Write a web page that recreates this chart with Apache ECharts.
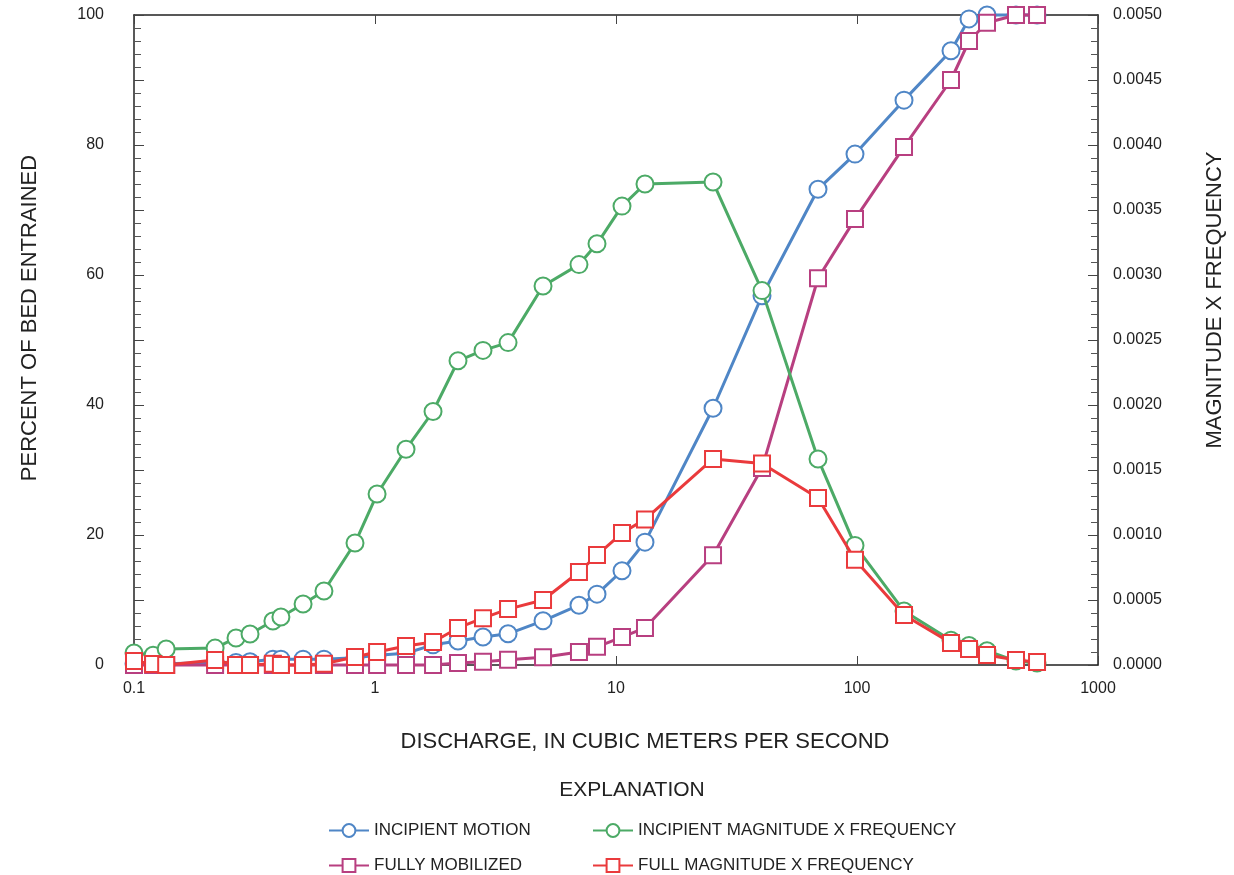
<!DOCTYPE html>
<html>
<head>
<meta charset="utf-8">
<script src="https://cdn.jsdelivr.net/npm/echarts@6/dist/echarts.min.js"></script>
<style>html,body{margin:0;padding:0;background:#fff}#c{width:1234px;height:875px}</style>
</head>
<body>
<div id="c"></div>
<script>
// Discharge, in cubic meters per second
var discharge = [0.1, 0.12, 0.136, 0.217, 0.265, 0.303, 0.377, 0.407, 0.503, 0.614, 0.826, 1.02, 1.345, 1.741, 2.21, 2.806, 3.565, 4.98, 7.02, 8.34, 10.59, 13.19, 25.27, 40.35, 68.9, 98.1, 156.7, 245.5, 291.6, 346.3, 456.8, 558.5];
// Percent of bed entrained (left axis)
var incipientMotion = [0.2, 0.2, 0.2, 0.4, 0.4, 0.5, 0.9, 0.9, 0.9, 0.9, 1.1, 1.5, 1.8, 3.1, 3.7, 4.3, 4.8, 6.8, 9.2, 10.9, 14.5, 18.9, 39.5, 56.8, 73.2, 78.6, 86.9, 94.5, 99.4, 100, 100, 100];
var fullyMobilized = [0, 0, 0, 0, 0, 0, 0, 0, 0, 0, 0, 0, 0, 0, 0.3, 0.5, 0.8, 1.2, 2.0, 2.8, 4.3, 5.7, 16.9, 30.3, 59.5, 68.6, 79.7, 90.0, 96.0, 98.8, 100, 100];
// Magnitude x frequency (right axis)
var incipientMxF = [0.000092, 0.000075, 0.000123, 0.00013, 0.000208, 0.000238, 0.000338, 0.000369, 0.000469, 0.000569, 0.000938, 0.001315, 0.00166, 0.00195, 0.00234, 0.00242, 0.00248, 0.002915, 0.00308, 0.00324, 0.00353, 0.0037, 0.003715, 0.00288, 0.001585, 0.00092, 0.000415, 0.00019, 0.00015, 0.00011, 0.00003, 0.000015];
var fullMxF = [0.000031, 0.000008, 0, 0.000038, 0, 0, 0.00001, 0, 0, 0.00001, 0.000062, 0.0001, 0.000146, 0.000177, 0.000285, 0.00036, 0.00043, 0.0005, 0.000715, 0.000846, 0.001015, 0.00112, 0.001585, 0.00155, 0.001285, 0.00081, 0.000385, 0.00017, 0.000123, 0.000077, 0.000038, 0.000023];
var seriesNames = ['INCIPIENT MOTION', 'INCIPIENT MAGNITUDE X FREQUENCY', 'FULLY MOBILIZED', 'FULL MAGNITUDE X FREQUENCY'];
var xTickLabels = ['0.1', '1', '10', '100', '1000'];

function pairs(ys) { return discharge.map(function (x, i) { return [x, ys[i]]; }); }

var FONT = '"Liberation Sans", Arial, sans-serif';
var TXT = '#222';
var chart = echarts.init(document.getElementById('c'));

function mkSeries(name, data, color, symbol, size, yIdx, z) {
  return {
    name: name, type: 'line', data: pairs(data), xAxisIndex: 0, yAxisIndex: yIdx,
    symbol: symbol, symbolSize: size, showAllSymbol: true, clip: false, z: z,
    lineStyle: { color: color, width: 3 },
    itemStyle: { color: color, borderColor: color, borderWidth: 2 },
    emphasis: { disabled: true }
  };
}

var xAxisBase = {
  type: 'log', logBase: 10, min: 0.1, max: 1000,
  axisLine: { show: true, onZero: false, lineStyle: { color: '#222', width: 1.5 } },
  axisTick: { show: true, inside: true, length: 9, lineStyle: { color: '#444', width: 1 } },
  splitLine: { show: false }
};

var legendBase = {
  orient: 'vertical', top: 822, padding: 0,
  itemWidth: 40, itemHeight: 16, itemGap: 18, selectedMode: false,
  textStyle: { fontSize: 17, color: TXT, fontFamily: FONT }
};

var option = {
  animation: false,
  backgroundColor: '#fff',
  grid: { left: 134, right: 136, top: 15, bottom: 210, containLabel: false },
  xAxis: [
    Object.assign({}, xAxisBase, {
      position: 'bottom',
      axisLabel: {
        show: true, margin: 16, fontSize: 16, color: TXT, fontFamily: FONT,
        formatter: function (v) {
          var e = Math.round(Math.log10(v));
          return xTickLabels[e + 1] !== undefined ? xTickLabels[e + 1] : '';
        }
      }
    }),
    Object.assign({}, xAxisBase, { position: 'top', axisLabel: { show: false } })
  ],
  yAxis: [
    {
      type: 'value', min: 0, max: 100, interval: 10, position: 'left',
      axisLine: { show: true, lineStyle: { color: '#222', width: 1.5 } },
      axisTick: { show: true, inside: true, length: 10, lineStyle: { color: '#444' } },
      minorTick: { show: true, splitNumber: 5, length: 7, lineStyle: { color: '#555' } },
      splitLine: { show: false },
      axisLabel: {
        margin: 30, fontSize: 16, color: TXT, fontFamily: FONT,
        formatter: function (v) { return Math.round(v) % 20 === 0 ? String(Math.round(v)) : ''; }
      }
    },
    {
      type: 'value', min: 0, max: 0.005, interval: 0.0005, position: 'right',
      axisLine: { show: true, lineStyle: { color: '#222', width: 1.5 } },
      axisTick: { show: true, inside: true, length: 10, lineStyle: { color: '#444' } },
      minorTick: { show: true, splitNumber: 5, length: 7, lineStyle: { color: '#555' } },
      splitLine: { show: false },
      axisLabel: {
        margin: 15, fontSize: 16, color: TXT, fontFamily: FONT,
        formatter: function (v) { return v.toFixed(4); }
      }
    }
  ],
  legend: [
    Object.assign({}, legendBase, { data: [seriesNames[0], seriesNames[2]], left: 328 }),
    Object.assign({}, legendBase, { data: [seriesNames[1], seriesNames[3]], left: 592 })
  ],
  graphic: [
    { type: 'text', x: 30, y: 318, rotation: Math.PI / 2,
      style: { text: 'PERCENT OF BED ENTRAINED', font: '22px ' + FONT, fill: TXT, textAlign: 'center', textVerticalAlign: 'middle' } },
    { type: 'text', x: 1215, y: 300, rotation: Math.PI / 2,
      style: { text: 'MAGNITUDE X FREQUENCY', font: '22px ' + FONT, fill: TXT, textAlign: 'center', textVerticalAlign: 'middle' } },
    { type: 'text', x: 645, y: 742,
      style: { text: 'DISCHARGE, IN CUBIC METERS PER SECOND', font: '22px ' + FONT, fill: TXT, textAlign: 'center', textVerticalAlign: 'middle' } },
    { type: 'text', x: 632, y: 790,
      style: { text: 'EXPLANATION', font: '21px ' + FONT, fill: TXT, textAlign: 'center', textVerticalAlign: 'middle' } }
  ],
  series: [
    mkSeries(seriesNames[0], incipientMotion, '#4f86c6', 'emptyCircle', 17, 0, 2),
    mkSeries(seriesNames[2], fullyMobilized, '#b83f80', 'emptyRect', 16, 0, 3),
    mkSeries(seriesNames[1], incipientMxF, '#4caa66', 'emptyCircle', 17, 1, 4),
    mkSeries(seriesNames[3], fullMxF, '#ea3a3c', 'emptyRect', 16, 1, 5)
  ]
};
chart.setOption(option);
</script>
</body>
</html>
